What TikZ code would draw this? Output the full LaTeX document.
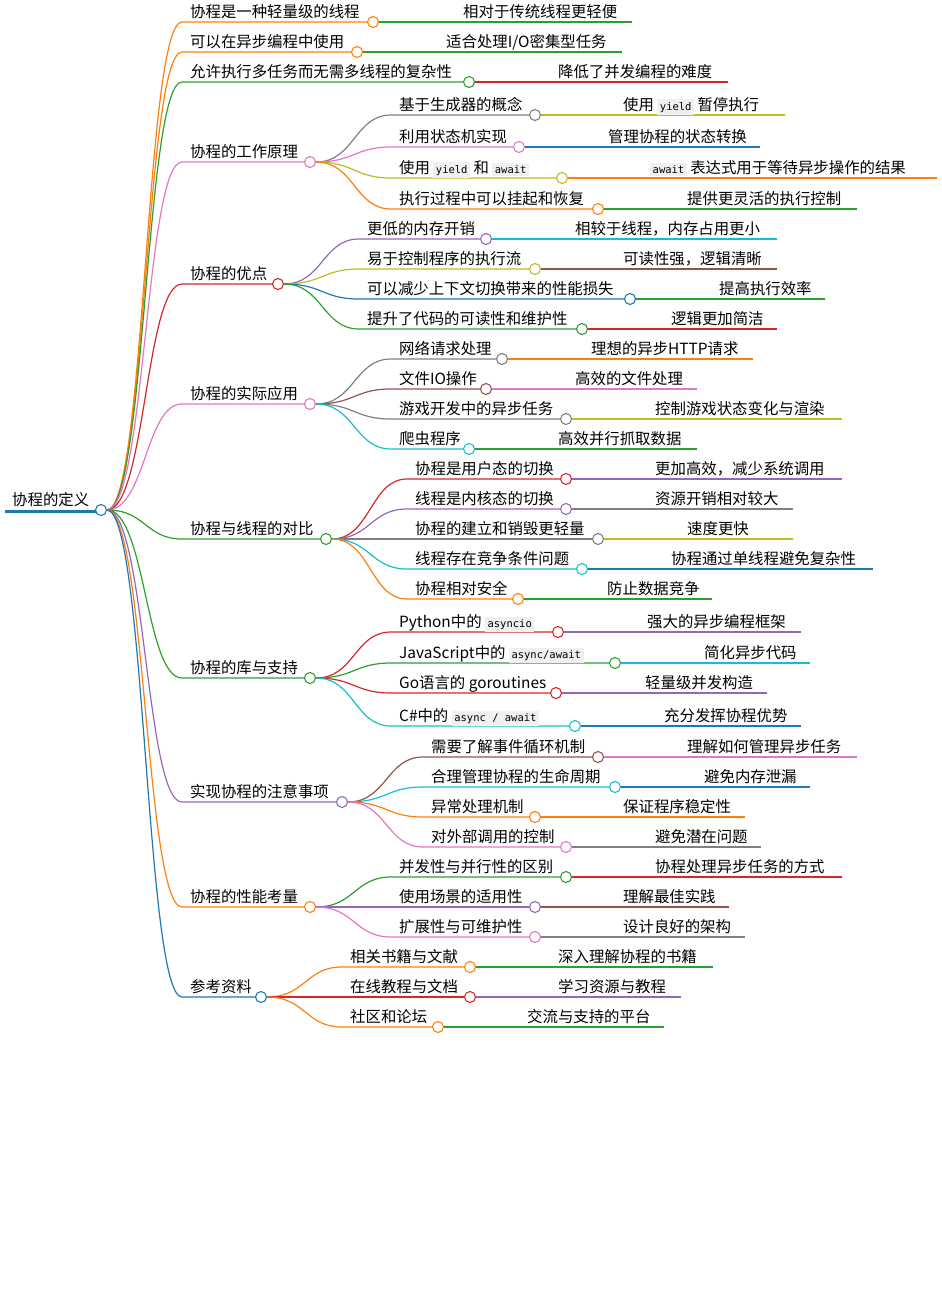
\documentclass[tikz,border=0pt]{standalone}
\usepackage{fontspec}
\setmainfont{Noto Sans CJK SC}
\setmonofont{DejaVu Sans Mono}
\definecolor{cO}{HTML}{FF7F0E}\definecolor{cG}{HTML}{2CA02C}\definecolor{cR}{HTML}{D62728}
\definecolor{cP}{HTML}{9467BD}\definecolor{cB}{HTML}{8C564B}\definecolor{cK}{HTML}{E377C2}
\definecolor{cY}{HTML}{7F7F7F}\definecolor{cV}{HTML}{BCBD22}\definecolor{cC}{HTML}{17BECF}
\definecolor{cU}{HTML}{1F77B4}
\newcommand\cd[1]{{\setlength{\fboxsep}{2.5pt}\colorbox{black!6}{\ttfamily\fontsize{10.5}{12}\selectfont #1}}}
\tikzset{dot/.style={circle,draw,fill=white,line width=1.1pt,minimum size=11pt,inner sep=0},
 lbl/.style={anchor=base west,inner sep=0,font=\fontsize{15.4}{18}\selectfont},
 ln/.style={line width=1.2pt}}
% name, px, py, x, y, cx, color, text
\newcommand\mn[8]{%
 \draw[ln,#7] (#2+6,#3) .. controls ({(#2+#4)/2},#3) and ({(#2+#4)/2},#5) .. (#4-8,#5) -- (#6,#5);
 \node[dot,draw=#7] (#1) at (#6,#5) {};
 \node[lbl] (#1t) at (#4,#5-5) {#8};}
% parent cx, y, x, endx, color, text
\newcommand\lf[6]{%
 \draw[ln,#5] (#1+6,#2) -- (#4,#2);
 \node[lbl] at (#3,#2-5) {#6};}
\begin{document}
\begin{tikzpicture}[x=1pt,y=-1pt]
\useasboundingbox (0,0) rectangle (942,1310);
\draw[cU,line width=3pt] (5,511) -- (96,511);
\node[dot,draw=cU] (root) at (101,510) {};
\node[lbl] at (12,505) {协程的定义};
\mn{a}{101}{510}{190}{22}{373}{cO}{协程是一种轻量级的线程}\lf{373}{22}{463}{632}{cG}{相对于传统线程更轻便}
\mn{b}{101}{510}{190}{52}{357}{cO}{可以在异步编程中使用}\lf{357}{52}{446}{622}{cG}{适合处理I/O密集型任务}
\mn{c}{101}{510}{190}{82}{469}{cG}{允许执行多任务而无需多线程的复杂性}\lf{469}{82}{558}{728}{cR}{降低了并发编程的难度}
\mn{d}{101}{510}{190}{162}{310}{cK}{协程的工作原理}
 \mn{d1}{310}{162}{399}{115}{535}{cY}{基于生成器的概念}\lf{535}{115}{623}{785}{cV}{使用 \cd{yield} 暂停执行}
 \mn{d2}{310}{162}{399}{147}{519}{cK}{利用状态机实现}\lf{519}{147}{608}{760}{cU}{管理协程的状态转换}
 \mn{d3}{310}{162}{399}{178}{562}{cV}{使用 \cd{yield} 和 \cd{await}}\lf{562}{178}{650}{937}{cO}{\cd{await} 表达式用于等待异步操作的结果}
 \mn{d4}{310}{162}{399}{209}{598}{cO}{执行过程中可以挂起和恢复}\lf{598}{209}{687}{857}{cG}{提供更灵活的执行控制}
\mn{e}{101}{510}{190}{284}{278}{cR}{协程的优点}
 \mn{e1}{278}{284}{367}{239}{486}{cP}{更低的内存开销}\lf{486}{239}{575}{777}{cC}{相较于线程，内存占用更小}
 \mn{e2}{278}{284}{367}{269}{535}{cV}{易于控制程序的执行流}\lf{535}{269}{623}{777}{cB}{可读性强，逻辑清晰}
 \mn{e3}{278}{284}{367}{299}{630}{cU}{可以减少上下文切换带来的性能损失}\lf{630}{299}{719}{825}{cG}{提高执行效率}
 \mn{e4}{278}{284}{367}{329}{582}{cG}{提升了代码的可读性和维护性}\lf{582}{329}{671}{777}{cR}{逻辑更加简洁}
\mn{f}{101}{510}{190}{404}{310}{cK}{协程的实际应用}
 \mn{f1}{310}{404}{399}{359}{502}{cY}{网络请求处理}\lf{502}{359}{591}{753}{cO}{理想的异步HTTP请求}
 \mn{f2}{310}{404}{399}{389}{486}{cB}{文件IO操作}\lf{486}{389}{575}{697}{cK}{高效的文件处理}
 \mn{f3}{310}{404}{399}{419}{566}{cY}{游戏开发中的异步任务}\lf{566}{419}{655}{842}{cV}{控制游戏状态变化与渲染}
 \mn{f4}{310}{404}{399}{449}{469}{cC}{爬虫程序}\lf{469}{449}{558}{697}{cG}{高效并行抓取数据}
\mn{g}{101}{510}{190}{539}{326}{cG}{协程与线程的对比}
 \mn{g1}{326}{539}{415}{479}{566}{cR}{协程是用户态的切换}\lf{566}{479}{655}{842}{cP}{更加高效，减少系统调用}
 \mn{g2}{326}{539}{415}{509}{566}{cP}{线程是内核态的切换}\lf{566}{509}{655}{793}{cY}{资源开销相对较大}
 \mn{g3}{326}{539}{415}{539}{598}{cY}{协程的建立和销毁更轻量}\lf{598}{539}{687}{793}{cV}{速度更快}
 \mn{g4}{326}{539}{415}{569}{582}{cC}{线程存在竞争条件问题}\lf{582}{569}{671}{873}{cU}{协程通过单线程避免复杂性}
 \mn{g5}{326}{539}{415}{599}{518}{cO}{协程相对安全}\lf{518}{599}{607}{712}{cG}{防止数据竞争}
\mn{h}{101}{510}{190}{678}{310}{cG}{协程的库与支持}
 \mn{h1}{310}{678}{399}{632}{558}{cR}{Python中的 \cd{asyncio}}\lf{558}{632}{647}{801}{cP}{强大的异步编程框架}
 \mn{h2}{310}{678}{399}{663}{615}{cG}{JavaScript中的 \cd{async/await}}\lf{615}{663}{704}{810}{cC}{简化异步代码}
 \mn{h3}{310}{678}{399}{693}{556}{cR}{Go语言的 goroutines}\lf{556}{693}{645}{767}{cP}{轻量级并发构造}
 \mn{h4}{310}{678}{399}{726}{575}{cC}{C\#中的 \cd{async / await}}\lf{575}{726}{664}{801}{cU}{充分发挥协程优势}
\mn{i}{101}{510}{190}{802}{342}{cP}{实现协程的注意事项}
 \mn{i1}{342}{802}{431}{757}{598}{cB}{需要了解事件循环机制}\lf{598}{757}{687}{857}{cK}{理解如何管理异步任务}
 \mn{i2}{342}{802}{431}{787}{615}{cC}{合理管理协程的生命周期}\lf{615}{787}{704}{810}{cU}{避免内存泄漏}
 \mn{i3}{342}{802}{431}{817}{535}{cO}{异常处理机制}\lf{535}{817}{623}{745}{cO}{保证程序稳定性}
 \mn{i4}{342}{802}{431}{847}{566}{cK}{对外部调用的控制}\lf{566}{847}{655}{761}{cY}{避免潜在问题}
\mn{j}{101}{510}{190}{907}{310}{cO}{协程的性能考量}
 \mn{j1}{310}{907}{399}{877}{566}{cG}{并发性与并行性的区别}\lf{566}{877}{655}{842}{cR}{协程处理异步任务的方式}
 \mn{j2}{310}{907}{399}{907}{535}{cP}{使用场景的适用性}\lf{535}{907}{623}{729}{cB}{理解最佳实践}
 \mn{j3}{310}{907}{399}{937}{535}{cK}{扩展性与可维护性}\lf{535}{937}{623}{745}{cY}{设计良好的架构}
\mn{k}{101}{510}{190}{997}{261}{cU}{参考资料}
 \mn{k1}{261}{997}{350}{967}{470}{cO}{相关书籍与文献}\lf{470}{967}{558}{713}{cG}{深入理解协程的书籍}
 \mn{k2}{261}{997}{350}{997}{470}{cR}{在线教程与文档}\lf{470}{997}{558}{681}{cP}{学习资源与教程}
 \mn{k3}{261}{997}{350}{1027}{438}{cO}{社区和论坛}\lf{438}{1027}{527}{664}{cG}{交流与支持的平台}
\end{tikzpicture}
\end{document}
